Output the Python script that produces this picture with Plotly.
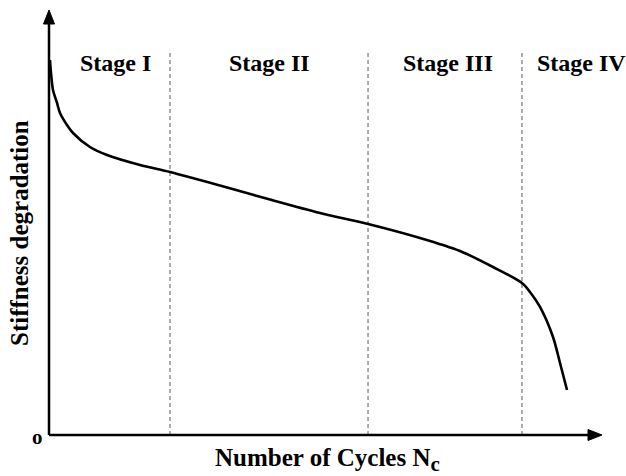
import plotly.graph_objects as go

# Data (arbitrary normalized units: x = number of cycles, y = stiffness)
cycles = [0.18, 0.36, 0.72, 1.45, 1.99, 3.25, 4.34, 7.41, 10.49, 16.46, 21.88, 30.92, 39.96,
          49.01, 57.69, 67.09, 74.32, 80.29, 85.53, 86.98, 88.79, 91.14, 92.41, 93.67]
stiffness = [88.24, 85.18, 81.18, 78.12, 75.76, 72.94, 71.06, 67.76, 65.88, 63.53, 61.88, 58.71, 55.41,
             52.24, 49.65, 46.35, 43.29, 39.53, 35.76, 33.65, 30.12, 23.06, 16.94, 10.59]
stage_bounds = [21.88, 57.69, 85.53]
stage_labels = ["Stage I", "Stage II", "Stage III", "Stage IV"]
stage_label_x = [11.94, 39.96, 72.15, 96.3]

FONT = "Liberation Serif"
PW, PH = 553, 425  # plot area size in px

fig = go.Figure()
fig.add_trace(go.Scatter(x=cycles, y=stiffness, mode="lines",
                         line=dict(color="black", width=2.6, shape="spline", smoothing=0.8),
                         hoverinfo="skip", showlegend=False))

for xb in stage_bounds:
    fig.add_shape(type="line", x0=xb, x1=xb, y0=0, y1=90.6, xref="x", yref="y",
                  line=dict(color="#808080", width=1.3, dash="4px,3px"), layer="below")

# axes with arrowheads
hl, hw = 14, 5.5
fig.add_shape(type="line", xref="paper", yref="paper", x0=0, y0=0, x1=1 - hl / PW, y1=0,
              line=dict(color="black", width=2.5))
fig.add_shape(type="line", xref="paper", yref="paper", x0=0, y0=0, x1=0, y1=1 - hl / PH,
              line=dict(color="black", width=2.5))
fig.add_shape(type="path", xref="paper", yref="paper",
              path=f"M 1 0 L {1 - hl / PW} {hw / PH} L {1 - hl / PW} {-hw / PH} Z",
              fillcolor="black", line=dict(color="black", width=1))
fig.add_shape(type="path", xref="paper", yref="paper",
              path=f"M 0 1 L {hw / PW} {1 - hl / PH} L {-hw / PW} {1 - hl / PH} Z",
              fillcolor="black", line=dict(color="black", width=1))

annotations = []
for lab, xl in zip(stage_labels, stage_label_x):
    annotations.append(dict(x=xl, y=87.5, xref="x", yref="y", text="<b>" + lab + "</b>",
                            showarrow=False,
                            font=dict(family=FONT, size=24, color="black")))

annotations.append(dict(x=-12 / PW, y=-2 / PH, xref="paper", yref="paper",
                        xanchor="center", yanchor="middle", text="<b>o</b>", showarrow=False,
                        font=dict(family=FONT, size=21, color="black")))
annotations.append(dict(x=(327 - 49) / PW, y=-25 / PH, xref="paper", yref="paper",
                        xanchor="center", yanchor="middle",
                        text="<b>Number of Cycles N<sub><span style='font-size:21px'>c</span></sub></b>",
                        showarrow=False,
                        font=dict(family=FONT, size=25, color="black")))
annotations.append(dict(x=-29 / PW, y=(435 - 233) / PH, xref="paper", yref="paper",
                        xanchor="center", yanchor="middle", textangle=-90,
                        text="<b>Stiffness degradation</b>", showarrow=False,
                        font=dict(family=FONT, size=25, color="black")))

fig.update_layout(
    width=626, height=476,
    margin=dict(l=49, r=24, t=10, b=41),
    paper_bgcolor="white", plot_bgcolor="white",
    xaxis=dict(range=[0, 100], visible=False, fixedrange=True),
    yaxis=dict(range=[0, 100], visible=False, fixedrange=True),
    annotations=annotations,
    showlegend=False,
)
fig.write_html("out.html", config={"displayModeBar": False},
               post_script="document.body.style.margin='0';document.body.style.overflow='hidden';")
